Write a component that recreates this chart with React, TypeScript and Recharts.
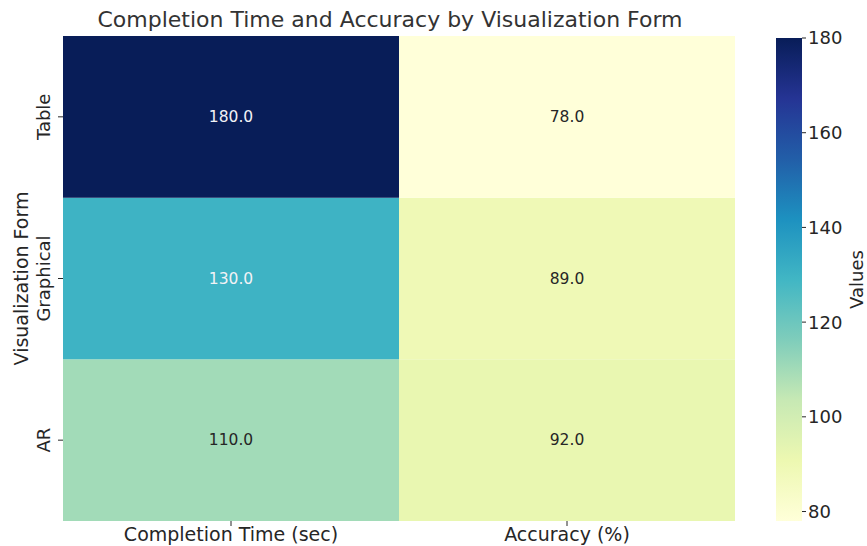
import React from "react";
import { Bar, BarChart, Cell, LabelList, XAxis, YAxis } from "recharts";

const columns = ["Completion Time (sec)", "Accuracy (%)"];
// rows listed bottom to top
const rows = ["AR", "Graphical", "Table"];
const completionTime = [110, 130, 180];
const accuracy = [92, 89, 78];
const colorTicks = [80, 100, 120, 140, 160, 180];

const vmin = 78;
const vmax = 180;
const palette = ["#ffffd9", "#edf8b1", "#c7e9b4", "#7fcdbb", "#41b6c4", "#1d91c0", "#225ea8", "#253494", "#081d58"];

const font = "DejaVu Sans, sans-serif";
const ink = "#262626";

function hexToRgb(h: string) {
  return [1, 3, 5].map((i) => parseInt(h.slice(i, i + 2), 16));
}

function colorFor(v: number) {
  const t = Math.min(1, Math.max(0, (v - vmin) / (vmax - vmin))) * (palette.length - 1);
  const i = Math.min(palette.length - 2, Math.floor(t));
  const f = t - i;
  const a = hexToRgb(palette[i]);
  const b = hexToRgb(palette[i + 1]);
  const c = a.map((x, k) => Math.round(x + (b[k] - x) * f));
  return `rgb(${c[0]},${c[1]},${c[2]})`;
}

const seriesByColumn = [completionTime, accuracy];

const data = columns.map((col, ci) => {
  const row: Record<string, any> = { col };
  rows.forEach((r, ri) => {
    row[r] = 1;
    row[r + "_v"] = seriesByColumn[ci][ri];
  });
  return row;
});

const barData = [{ name: "cb", range: [vmin, vmax] }];

function RowTick(props: any) {
  const { x, y, payload } = props;
  const label = rows[Math.floor(payload.value)];
  return (
    <text
      x={x - 6}
      y={y}
      transform={`rotate(-90 ${x - 6} ${y})`}
      textAnchor="middle"
      fontSize={18}
      fontFamily={font}
      fill={ink}
    >
      {label}
    </text>
  );
}

function cellLabel(rowName: string) {
  return (props: any) => {
    const { x, y, width, height, index } = props;
    const v = data[index][rowName + "_v"];
    return (
      <text
        x={x + width / 2}
        y={y + height / 2}
        textAnchor="middle"
        dominantBaseline="central"
        fontSize={15.5}
        fontFamily={font}
        fill={v >= 125 ? "#f2f2f6" : ink}
      >
        {v.toFixed(1)}
      </text>
    );
  };
}

export default function App() {
  return (
    <div style={{ position: "absolute", left: 0, top: 0, width: 867, height: 546, background: "#fff" }}>
      <div
        style={{
          position: "absolute",
          left: 0,
          width: 780,
          top: 7,
          textAlign: "center",
          fontFamily: font,
          fontSize: 22,
          color: "#333",
          whiteSpace: "nowrap",
        }}
      >
        Completion Time and Accuracy by Visualization Form
      </div>
      <div style={{ position: "absolute", left: 0, top: 0 }}>
        <BarChart
          width={867}
          height={546}
          data={data}
          margin={{ top: 36, right: 132, bottom: 0, left: 13 }}
          barCategoryGap={0}
          barGap={0}
        >
          <XAxis
            dataKey="col"
            type="category"
            height={25}
            axisLine={false}
            tickSize={5}
            tickLine={{ stroke: ink }}
            tick={{ fontSize: 19, fontFamily: font, fill: ink }}
            interval={0}
          />
          <YAxis
            type="number"
            domain={[0, 3]}
            ticks={[0.5, 1.5, 2.5]}
            interval={0}
            width={50}
            axisLine={false}
            tickSize={5}
            tickLine={{ stroke: ink }}
            tick={<RowTick />}
            label={{
              value: "Visualization Form",
              angle: -90,
              position: "insideLeft",
              offset: 8,
              style: { fontSize: 19, fontFamily: font, fill: ink, textAnchor: "middle" },
            }}
          />
          {rows.map((r) => (
            <Bar key={r} dataKey={r} stackId="s" isAnimationActive={false}>
              {data.map((d, i) => (
                <Cell key={i} fill={colorFor(d[r + "_v"])} />
              ))}
              <LabelList dataKey={r} content={cellLabel(r)} />
            </Bar>
          ))}
        </BarChart>
      </div>
      <div style={{ position: "absolute", left: 776, top: 18 }}>
        <BarChart
          width={91}
          height={523}
          data={barData}
          margin={{ top: 20, right: 0, bottom: 20, left: 0 }}
          barCategoryGap={0}
        >
          <defs>
            <linearGradient id="cbGrad" x1="0" y1="1" x2="0" y2="0">
              {palette.map((c, i) => (
                <stop key={i} offset={`${(i / (palette.length - 1)) * 100}%`} stopColor={c} />
              ))}
            </linearGradient>
          </defs>
          <XAxis dataKey="name" hide />
          <YAxis
            orientation="right"
            type="number"
            domain={[vmin, vmax]}
            ticks={colorTicks}
            interval={0}
            allowDataOverflow
            width={65}
            axisLine={false}
            tickSize={4}
            tickLine={{ stroke: ink }}
            tick={{ fontSize: 18, fontFamily: font, fill: ink, textAnchor: "start" }}
            label={{
              value: "Values",
              angle: -90,
              position: "insideRight",
              offset: 10,
              style: { fontSize: 18, fontFamily: font, fill: ink, textAnchor: "middle" },
            }}
          />
          <Bar dataKey="range" fill="url(#cbGrad)" isAnimationActive={false} />
        </BarChart>
      </div>
    </div>
  );
}
